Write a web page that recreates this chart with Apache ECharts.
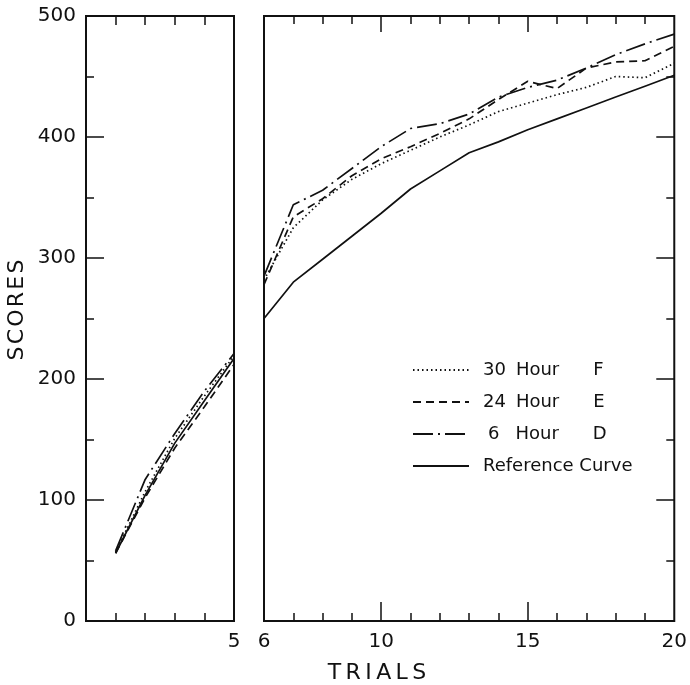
<!DOCTYPE html>
<html>
<head>
<meta charset="utf-8">
<script src="https://cdn.jsdelivr.net/npm/echarts@6/dist/echarts.min.js"></script>
<style>
html, body { margin: 0; padding: 0; background: #fff; }
#main { width: 690px; height: 685px; }
</style>
</head>
<body>
<div id="main"></div>
<script>
// trials 1-5 (left panel) and 6-20 (right panel)
var trialsLeft = [1, 2, 3, 4, 5]
var trialsRight = [6, 7, 8, 9, 10, 11, 12, 13, 14, 15, 16, 17, 18, 19, 20]

var hour30Left = [57, 107, 151, 186, 219]
var hour24Left = [56, 102, 143, 177, 212]
var hour6Left = [58, 117, 155, 190, 221]
var refLeft = [56, 104, 147, 182, 217]

var hour30Right = [282, 325, 348, 365, 378, 389, 400, 410, 421, 428, 435, 441, 450, 449, 461]
var hour24Right = [278, 334, 349, 368, 382, 392, 403, 415, 431, 446, 440, 457, 462, 463, 475]
var hour6Right = [285, 344, 356, 374, 392, 407, 411, 419, 433, 441, 447, 457, 468, 477, 485]
var refRight = [250, 280, 299, 318, 337, 357, 372, 387, 396, 406, 415, 424, 433, 442, 451]

var names = ['30 Hour F', '24 Hour E', '6 Hour D', 'Reference Curve']
var legendParts = {
    '30 Hour F': ['30', 'Hour', 'F'],
    '24 Hour E': ['24', 'Hour', 'E'],
    '6 Hour D': ['6', 'Hour', 'D'],
}

var xLabelsLeft = [5]
var xLabelsRight = [6, 10, 15, 20]
var minorTicksLeft = [1, 2, 3, 4]
var minorTicksRight = [7, 8, 9, 11, 12, 13, 14, 16, 17, 18, 19]
var majorTicksRight = [10, 15]

var ink = '#111'
var font = 'DejaVu Sans'

var pairs = (xs, ys) => {
    var r = []
    for (var i = 0; i < xs.length; i++) {
        r.push([xs[i], ys[i]])
    }
    return r
}

var dashes = {
    '30 Hour F': [1.5, 3],
    '24 Hour E': [8, 5],
    '6 Hour D': [20, 5, 2, 5],
    'Reference Curve': 'solid',
}

var makeSeries = (name, grid, xs, ys) => {
    return {
        name: name,
        type: 'line',
        xAxisIndex: grid == 0 ? 0 : 2,
        yAxisIndex: grid,
        data: pairs(xs, ys),
        symbol: 'none',
        lineStyle: {
            color: ink,
            width: 1.7,
            type: dashes[name],
        },
        itemStyle: { color: ink },
        emphasis: { disabled: true },
    }
}

var tickAxis = (grid, pos, min, max, ticks, len, labels) => {
    var a = {
        type: 'value',
        gridIndex: grid,
        position: pos,
        min: min,
        max: max,
        interval: 1,
        axisLine: { show: false },
        splitLine: { show: false },
        axisTick: {
            show: true,
            inside: true,
            length: len,
            customValues: ticks,
            lineStyle: { color: ink, width: 1.5 },
        },
        axisLabel: { show: false },
    }
    if (labels) {
        a.axisLabel = {
            show: true,
            customValues: labels,
            color: ink,
            fontFamily: font,
            fontSize: 20,
            margin: 11,
        }
    }
    return a
}

var yAxis = (grid, pos, showLabels) => {
    return {
        type: 'value',
        gridIndex: grid,
        position: pos,
        min: 0,
        max: 500,
        interval: 100,
        axisLine: { show: false },
        splitLine: { show: false },
        axisTick: {
            show: true,
            inside: true,
            length: 18,
            lineStyle: { color: ink, width: 1.5 },
        },
        minorTick: {
            show: true,
            splitNumber: 2,
            length: 8,
            lineStyle: { color: ink, width: 1.5 },
        },
        minorSplitLine: { show: false },
        axisLabel: {
            show: showLabels,
            color: ink,
            fontFamily: font,
            fontSize: 20,
            margin: 10,
        },
    }
}

// no token widths: spacing comes from paddings only
var legendFormatter = (name) => {
    var p = legendParts[name]
    if (!p) {
        return '{r|' + name + '}'
    }
    if (p[0].length == 1) {
        return '{n1|' + p[0] + '}{h1|' + p[1] + '}{l|' + p[2] + '}'
    }
    return '{n2|' + p[0] + '}{h2|' + p[1] + '}{l|' + p[2] + '}'
}

var showChart = () => {
    var chart = echarts.init(document.getElementById('main'), null, { renderer: 'canvas' })
    var gridStyle = {
        show: true,
        borderColor: ink,
        borderWidth: 2,
        backgroundColor: 'transparent',
        containLabel: false,
    }
    var txt = { fontFamily: font, fontSize: 18, color: ink }
    var option = {
        animation: false,
        backgroundColor: '#fff',
        grid: [
            Object.assign({ left: 86, top: 16, width: 148, height: 605 }, gridStyle),
            Object.assign({ left: 264, top: 16, width: 414, height: 605 }, gridStyle),
        ],
        xAxis: [
            tickAxis(0, 'bottom', 0, 5, minorTicksLeft, 8, xLabelsLeft),
            tickAxis(0, 'top', 0, 5, minorTicksLeft, 9, null),
            tickAxis(1, 'bottom', 6, 20, minorTicksRight, 8, xLabelsRight),
            tickAxis(1, 'bottom', 6, 20, majorTicksRight, 19, null),
            tickAxis(1, 'top', 6, 20, minorTicksRight, 8, null),
            tickAxis(1, 'top', 6, 20, majorTicksRight, 16, null),
        ],
        yAxis: [
            yAxis(0, 'left', true),
            yAxis(1, 'right', false),
        ],
        legend: {
            data: names,
            orient: 'vertical',
            left: 412,
            top: 359,
            padding: 0,
            itemGap: 10,
            itemWidth: 56,
            itemHeight: 14,
            selectedMode: false,
            itemStyle: {
                color: 'transparent',
                borderColor: 'transparent',
                borderWidth: 0,
            },
            formatter: legendFormatter,
            textStyle: {
                color: ink,
                fontFamily: font,
                fontSize: 18,
                lineHeight: 22,
                rich: {
                    n2: Object.assign({ padding: [0, 0, 0, 9] }, txt),
                    n1: Object.assign({ padding: [0, 0, 0, 14] }, txt),
                    h2: Object.assign({ padding: [0, 0, 0, 10] }, txt),
                    h1: Object.assign({ padding: [0, 0, 0, 16] }, txt),
                    l: Object.assign({ padding: [0, 0, 0, 34] }, txt),
                    r: Object.assign({ padding: [0, 0, 0, 9] }, txt),
                },
            },
        },
        graphic: [
            {
                type: 'text',
                x: 17,
                y: 310,
                rotation: Math.PI / 2,
                style: {
                    text: 'S\u200aC\u200aO\u200aR\u200aE\u200aS',
                    font: '22px "DejaVu Sans"',
                    fill: ink,
                    align: 'center',
                    verticalAlign: 'middle',
                },
            },
            {
                type: 'text',
                x: 377,
                y: 673,
                style: {
                    text: 'T\u2009R\u2009I\u2009A\u2009L\u2009S',
                    font: '22px "DejaVu Sans"',
                    fill: ink,
                    align: 'center',
                    verticalAlign: 'middle',
                },
            },
        ],
        series: [
            makeSeries(names[0], 0, trialsLeft, hour30Left),
            makeSeries(names[1], 0, trialsLeft, hour24Left),
            makeSeries(names[2], 0, trialsLeft, hour6Left),
            makeSeries(names[3], 0, trialsLeft, refLeft),
            makeSeries(names[0], 1, trialsRight, hour30Right),
            makeSeries(names[1], 1, trialsRight, hour24Right),
            makeSeries(names[2], 1, trialsRight, hour6Right),
            makeSeries(names[3], 1, trialsRight, refRight),
        ],
    }
    chart.setOption(option)
}

showChart()
</script>
</body>
</html>
